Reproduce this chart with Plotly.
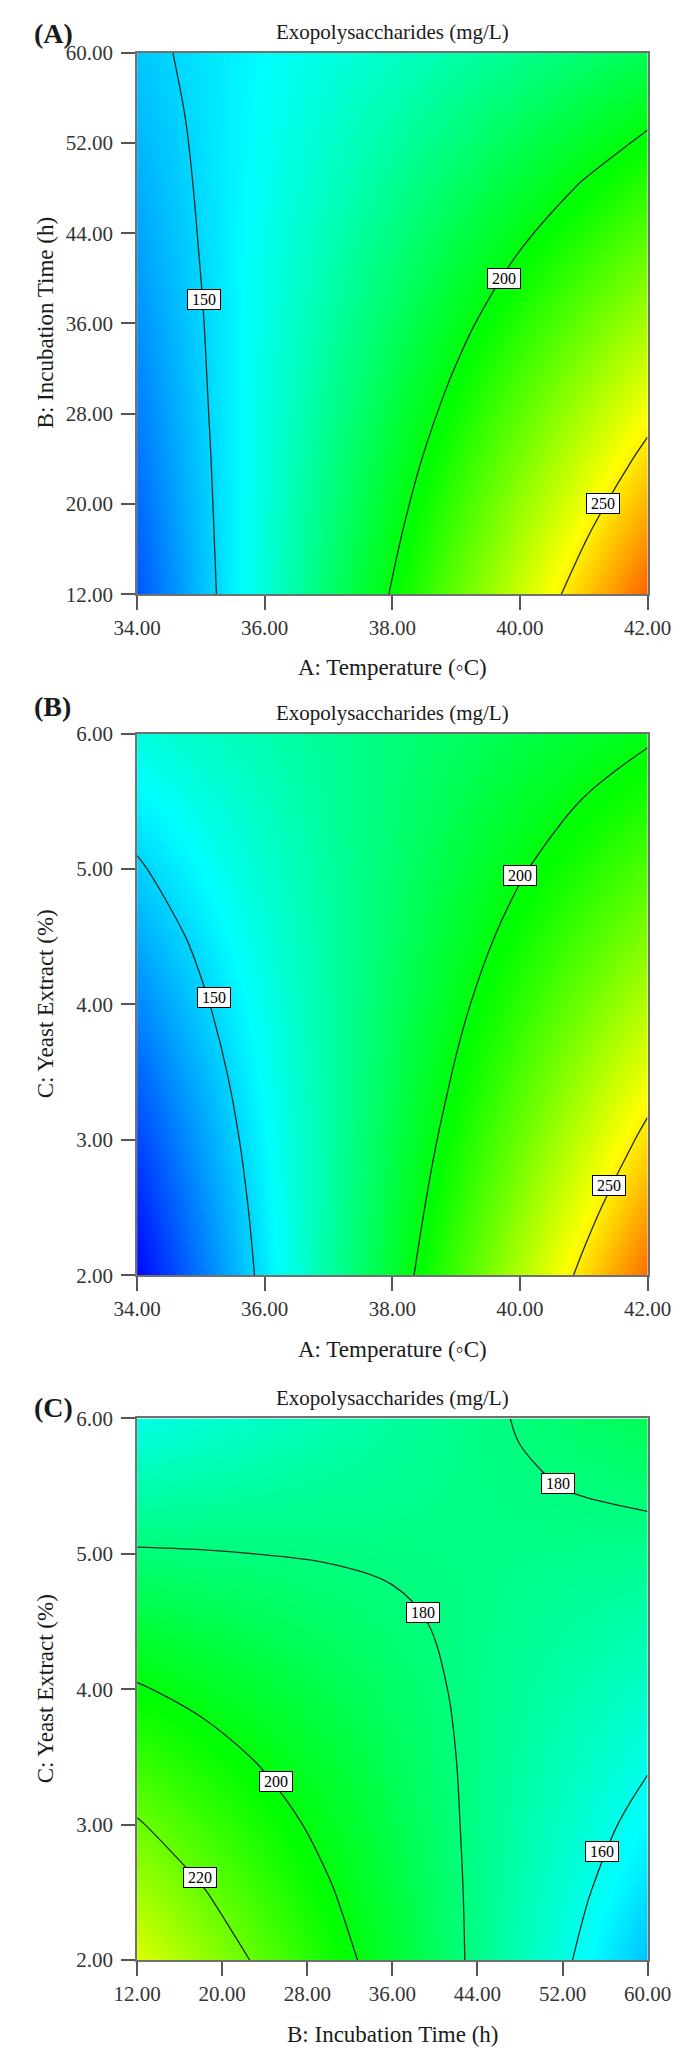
import plotly.graph_objects as go
from plotly.subplots import make_subplots

# factor levels of the grids
temperature = [34, 35, 36, 37, 38, 39, 40, 41, 42]
incubation_time = [12, 18, 24, 30, 36, 42, 48, 54, 60]
yeast_extract = [2.0, 2.5, 3.0, 3.5, 4.0, 4.5, 5.0, 5.5, 6.0]

# Exopolysaccharides (mg/L), rows = y factor, columns = x factor
eps_temp_time = [
    [127.0, 145.5, 164.0, 182.5, 201.0, 219.5, 238.0, 256.5, 275.0],
    [129.8, 146.6, 163.4, 180.2, 197.0, 213.8, 230.7, 247.5, 264.3],
    [132.5, 147.6, 162.7, 177.9, 193.0, 208.1, 223.2, 238.4, 253.5],
    [135.1, 148.6, 162.0, 175.4, 188.9, 202.3, 215.8, 229.2, 242.6],
    [137.7, 149.4, 161.2, 173.0, 184.7, 196.5, 208.2, 220.0, 231.7],
    [140.2, 150.3, 160.3, 170.4, 180.4, 190.5, 200.6, 210.6, 220.7],
    [142.6, 151.0, 159.4, 167.7, 176.1, 184.5, 192.9, 201.2, 209.6],
    [144.9, 151.6, 158.3, 165.0, 171.7, 178.4, 185.1, 191.8, 198.4],
    [147.2, 152.2, 157.2, 162.2, 167.2, 172.2, 177.2, 182.2, 187.2],
]
eps_temp_yeast = [
    [113.2, 133.2, 153.2, 173.2, 193.2, 213.2, 233.2, 253.2, 273.2],
    [118.6, 136.6, 154.7, 172.8, 190.8, 208.9, 227.0, 245.0, 263.1],
    [124.2, 140.3, 156.4, 172.6, 188.7, 204.8, 220.9, 237.1, 253.2],
    [130.0, 144.2, 158.4, 172.5, 186.7, 200.9, 215.1, 229.3, 243.5],
    [136.0, 148.3, 160.5, 172.8, 185.0, 197.3, 209.5, 221.8, 234.0],
    [142.2, 152.5, 162.9, 173.2, 183.5, 193.8, 204.1, 214.4, 224.7],
    [148.7, 157.0, 165.4, 173.8, 182.2, 190.6, 198.9, 207.3, 215.7],
    [155.3, 161.8, 168.2, 174.6, 181.1, 187.5, 194.0, 200.4, 206.8],
    [162.2, 166.7, 171.2, 175.7, 180.2, 184.7, 189.2, 193.7, 198.2],
]
eps_time_yeast = [
    [241.0, 229.1, 217.2, 205.4, 193.5, 181.6, 169.8, 157.9, 146.0],
    [231.0, 221.0, 211.0, 201.0, 191.1, 181.1, 171.1, 161.1, 151.1],
    [221.0, 212.9, 204.8, 196.7, 188.6, 180.5, 172.4, 164.3, 156.2],
    [211.0, 204.8, 198.6, 192.4, 186.2, 180.0, 173.8, 167.6, 161.4],
    [201.0, 196.7, 192.4, 188.1, 183.8, 179.4, 175.1, 170.8, 166.5],
    [191.0, 188.6, 186.2, 183.7, 181.3, 178.9, 176.5, 174.0, 171.6],
    [181.0, 180.5, 179.9, 179.4, 178.9, 178.3, 177.8, 177.3, 176.8],
    [171.0, 172.4, 173.7, 175.1, 176.4, 177.8, 179.2, 180.5, 181.9],
    [161.0, 164.2, 167.5, 170.8, 174.0, 177.2, 180.5, 183.8, 187.0],
]

# tick values
temp_ticks = [34, 36, 38, 40, 42]
time_ticks = [12, 20, 28, 36, 44, 52, 60]
yeast_ticks = [2, 3, 4, 5, 6]

# contour label text and where each label sits on its line
labels_a = ["150", "200", "250"]
labels_a_x = [35.05, 39.75, 41.3]
labels_a_y = [38.1, 40.0, 20.0]
labels_b = ["150", "200", "250"]
labels_b_x = [35.2, 40.0, 41.4]
labels_b_y = [4.05, 4.95, 2.66]
labels_c = ["220", "200", "180", "180", "160"]
labels_c_x = [17.9, 25.1, 38.9, 51.6, 55.75]
labels_c_y = [2.61, 3.32, 4.57, 5.52, 2.8]

W, HGT = 685, 2051
FONT = "Liberation Serif"
scale = [[0, "rgb(0,0,255)"], [0.25, "rgb(0,255,255)"], [0.5, "rgb(0,255,0)"],
         [0.75, "rgb(255,255,0)"], [1, "rgb(255,0,0)"]]

fig = make_subplots(rows=3, cols=1)

panels = [
    dict(x=temperature, y=incubation_time, z=eps_temp_time, levels=(150, 250, 50), letter="(A)",
         xt="A: Temperature (\u25e6C)", yt="B: Incubation Time (h)",
         top=33, xticks=temp_ticks, yticks=time_ticks,
         labels=(labels_a_x, labels_a_y, labels_a), letter_y=14, xt_y=655),
    dict(x=temperature, y=yeast_extract, z=eps_temp_yeast, levels=(150, 250, 50), letter="(B)",
         xt="A: Temperature (\u25e6C)", yt="C: Yeast Extract (%)",
         top=722, xticks=temp_ticks, yticks=yeast_ticks,
         labels=(labels_b_x, labels_b_y, labels_b), letter_y=695, xt_y=1345),
    dict(x=incubation_time, y=yeast_extract, z=eps_time_yeast, levels=(160, 220, 20), letter="(C)",
         xt="B: Incubation Time (h)", yt="C: Yeast Extract (%)",
         top=1415, xticks=time_ticks, yticks=yeast_ticks,
         labels=(labels_c_x, labels_c_y, labels_c), letter_y=1404, xt_y=2038),
]

left, right, size = 113, 662, 548
annotations = []


def note(x, y, text, size, **kw):
    # paper-positioned text, always centred on the point
    d = dict(x=x / W, y=1 - y / HGT, xref="paper", yref="paper", text=text, showarrow=False,
             xanchor="center", yanchor="middle",
             font=dict(family=FONT, size=size, color="#1a1a1a"))
    d.update(kw)
    return d


for i, p in enumerate(panels):
    row = i + 1

    # smooth colour surface + black contour lines
    fig.add_trace(go.Heatmap(x=p["x"], y=p["y"], z=p["z"], zsmooth="best",
                             colorscale=scale, zmin=112, zmax=292,
                             showscale=False, hoverinfo="skip"), row=row, col=1)
    s, e, st = p["levels"]
    fig.add_trace(go.Contour(x=p["x"], y=p["y"], z=p["z"], autocontour=False,
                             contours=dict(start=s, end=e, size=st, coloring="none"),
                             line=dict(color="#1e2a26", width=1.3),
                             showscale=False, hoverinfo="skip"), row=row, col=1)

    top = p["top"]
    bottom = top + size
    xa = "xaxis" if i == 0 else f"xaxis{row}"
    ya = "yaxis" if i == 0 else f"yaxis{row}"
    axis_style = dict(showgrid=False, zeroline=False, showline=True, mirror=True,
                      linecolor="#707070", linewidth=2, ticks="outside", ticklen=14,
                      tickwidth=1.5, tickcolor="#555555", tickformat=".2f",
                      ticklabeloverflow="allow",
                      tickfont=dict(family=FONT, size=21, color="#333333"))
    fig.layout[xa].update(domain=[left / W, right / W], range=[p["x"][0], p["x"][-1]],
                          tickvals=p["xticks"], **axis_style)
    fig.layout[ya].update(domain=[1 - bottom / HGT, 1 - top / HGT],
                          range=[p["y"][0], p["y"][-1]], tickvals=p["yticks"],
                          ticklabelstandoff=4, **axis_style)

    xref = "x" if i == 0 else f"x{row}"
    yref = "y" if i == 0 else f"y{row}"
    # boxed contour labels
    for lx, ly, lt in zip(*p["labels"]):
        annotations.append(dict(x=lx, y=ly, xref=xref, yref=yref, text=lt, showarrow=False,
                                xanchor="center", yanchor="middle",
                                font=dict(family=FONT, size=16, color="black"),
                                width=30, height=17,
                                bgcolor="white", bordercolor="black", borderwidth=1, borderpad=1))
    # panel title, letter, axis titles
    mid = (left + right) / 2
    annotations.append(note(mid, top - 21, "Exopolysaccharides (mg/L)", 21))
    annotations.append(note(0, p["letter_y"], "<b>" + p["letter"] + "</b>", 28,
                            xanchor="left"))
    annotations.append(note(mid, p["xt_y"], p["xt"], 23))
    annotations.append(note(14, top + size / 2, p["yt"], 23, textangle=-90))

fig.update_layout(width=W, height=HGT, margin=dict(l=0, r=0, t=0, b=0),
                  paper_bgcolor="white", plot_bgcolor="white", showlegend=False,
                  annotations=annotations)

fig.write_html("out.html")
